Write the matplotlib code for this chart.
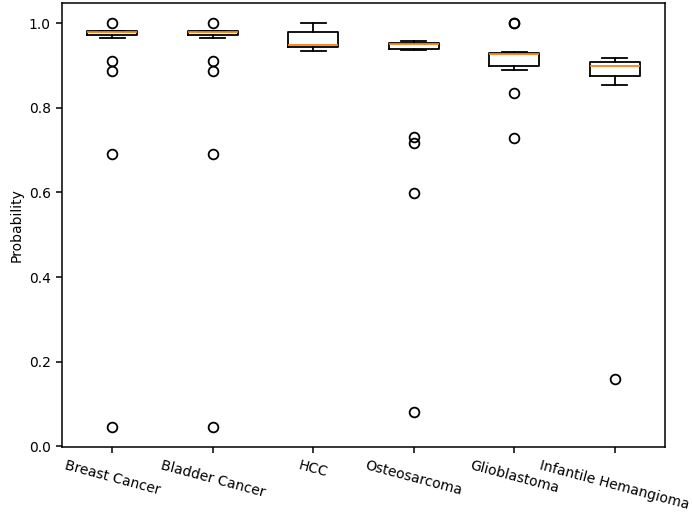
import matplotlib
matplotlib.use('Agg')
from matplotlib import pyplot as plt

###box statistics
labels=['Breast Cancer','Bladder Cancer','HCC','Osteosarcoma','Glioblastoma','Infantile Hemangioma']
med=[0.980,0.980,0.949,0.950,0.928,0.898]
q1=[0.973,0.973,0.943,0.940,0.899,0.875]
q3=[0.982,0.982,0.978,0.953,0.930,0.909]
whislo=[0.965,0.965,0.935,0.937,0.890,0.854]
whishi=[0.982,0.982,1.000,0.957,0.931,0.917]
fliers=[[1.0,0.910,0.886,0.691,0.046],
	[1.0,0.910,0.886,0.691,0.046],
	[],
	[0.731,0.717,0.598,0.081],
	[1.0,1.0,0.836,0.729],
	[0.158]]

stats=[]
for i in range(len(labels)):
	stats.append({'label':labels[i],'med':med[i],'q1':q1[i],'q3':q3[i],
		'whislo':whislo[i],'whishi':whishi[i],'fliers':fliers[i]})

fig=plt.figure(figsize=(6.92,5.13),dpi=100)
ax=fig.add_axes([62/692,1-447/513,603/692,444/513])
lw=1.3
ax.bxp(stats,boxprops={'linewidth':lw},whiskerprops={'linewidth':lw},
	capprops={'linewidth':lw},medianprops={'linewidth':lw,'color':'C1'},
	flierprops={'markersize':7,'markeredgewidth':lw})
for s in ax.spines.values():
	s.set_linewidth(1.1)
ax.tick_params(length=4.5,width=1.1)
ax.set_ylabel('Probability')
plt.setp(ax.get_xticklabels(),rotation=-15)
plt.savefig('out.png',dpi=100)
plt.close()
